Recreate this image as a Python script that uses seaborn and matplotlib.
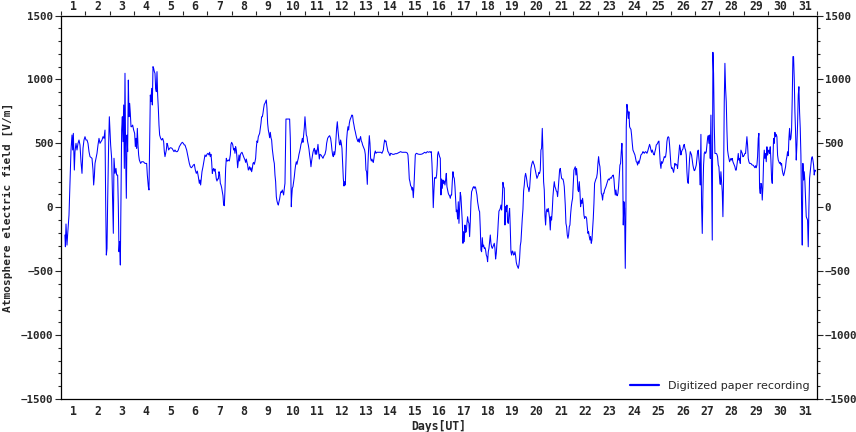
import numpy as np
import seaborn as sns
import matplotlib
matplotlib.use("Agg")
import matplotlib.pyplot as plt
from matplotlib.ticker import MultipleLocator, NullFormatter

# digitized recording: (day, field V/m) pairs
seg_a = [(1.16,-217),(1.18,-309),(1.205,-131),(1.246,-296),(1.27,-220),(1.328,-61),(1.369,200),(1.41,448),
         (1.451,565),(1.478,448),(1.506,578),(1.547,291),(1.574,435),(1.615,500),(1.656,448),(1.697,500),
         (1.738,526),(1.779,487),(1.82,356),(1.861,265),(1.902,461),(1.943,526),(1.984,552),(2.025,526),
         (2.066,526),(2.107,500),(2.148,435),(2.189,396),(2.271,383),(2.312,291),(2.339,174),(2.367,239),
         (2.394,343),(2.435,383),(2.476,422),(2.517,487),(2.558,539),(2.599,500),(2.64,513),(2.681,526),
         (2.722,552),(2.763,539),(2.804,604),(2.831,57),(2.859,-374),(2.886,-322),(2.913,43),(2.954,500),
         (2.982,708),(3.009,591),(3.036,487),(3.077,383),(3.118,17),(3.146,-204),(3.173,383),(3.214,265),
         (3.255,304),(3.282,252),(3.323,252),(3.351,4),(3.378,-348),(3.405,-269),(3.433,-452),(3.46,83),
         (3.487,604),(3.515,708),(3.542,513),(3.569,800),(3.597,304),(3.624,1048),(3.651,409),(3.679,70),
         (3.706,565),(3.733,435),(3.761,995),(3.788,708),(3.815,813),(3.843,735),(3.87,630),(3.897,630),
         (3.938,643),(3.979,604),(4.02,578),(4.048,474),(4.075,539),(4.102,461),(4.13,617),(4.157,487),
         (4.184,409),(4.212,370),(4.239,356),(4.266,343),(4.307,356),(4.376,356),(4.444,343),(4.512,343),
         (4.54,252),(4.581,161),(4.608,135),(4.635,487),(4.663,878),(4.69,826),(4.717,930),(4.745,800),
         (4.772,1100),(4.799,1087),(4.827,1061),(4.854,1048),(4.881,930),(4.909,904),(4.936,1061),(4.963,878),
         (4.991,774),(5.018,643),(5.045,565),(5.086,539),(5.127,526),(5.168,539),(5.209,513),(5.237,435),
         (5.264,396),(5.291,422),(5.319,448),(5.346,500),(5.373,487),(5.414,448),(5.455,461),(5.496,466),
         (5.551,461),(5.592,448),(5.633,435),(5.674,448),(5.715,435),(5.77,435),(5.811,448),(5.852,474),
         (5.893,487),(5.934,500),(5.975,508),(6.016,500),(6.057,487)]

seg_b = [(6.084,487),(6.152,448),(6.221,383),(6.262,343),(6.303,317),(6.344,309),(6.385,317),(6.426,330),
         (6.467,336),(6.508,291),(6.549,265),(6.59,283),(6.631,239),(6.672,187),(6.699,213),(6.726,174),
         (6.754,226),(6.781,278),(6.822,317),(6.863,362),(6.904,409),(6.945,396),(6.986,414),(7.027,422),
         (7.068,409),(7.095,430),(7.123,396),(7.15,414),(7.177,356),(7.205,265),(7.232,291),(7.259,304),
         (7.287,283),(7.314,299),(7.341,265),(7.369,221),(7.396,205),(7.423,221),(7.451,221),(7.478,278),
         (7.505,257),(7.533,187),(7.56,174),(7.587,153),(7.615,122),(7.642,90),(7.669,17),(7.697,12),
         (7.724,135),(7.751,304),(7.779,383),(7.806,362),(7.833,362),(7.861,370),(7.902,362),(7.943,409),
         (7.97,492),(7.997,508),(8.038,492),(8.079,448),(8.107,461),(8.134,422),(8.161,474),(8.189,448),
         (8.216,388),(8.243,309),(8.271,356),(8.298,409),(8.325,362),(8.353,409),(8.38,422),(8.421,430),
         (8.462,409),(8.503,388),(8.544,370),(8.571,351),(8.599,377),(8.626,351),(8.653,330),(8.681,291),
         (8.708,304),(8.735,317),(8.763,291),(8.79,309),(8.817,278),(8.845,304),(8.872,343),(8.899,351),
         (8.927,336),(8.954,356),(8.981,383),(9.009,466),(9.036,518),(9.063,508),(9.091,552),(9.118,565),
         (9.145,578),(9.173,617),(9.2,656),(9.227,708),(9.255,708),(9.282,735),(9.309,774),(9.337,805),
         (9.364,813),(9.391,826),(9.419,839),(9.446,774),(9.473,656),(9.501,604),(9.528,578),(9.555,544),
         (9.583,586),(9.61,544),(9.637,526),(9.665,455),(9.692,409),(9.719,370),(9.747,343),(9.774,252),
         (9.801,200),(9.829,83),(9.856,49),(9.883,30),(9.911,17),(9.938,43),(9.965,64),(9.993,101),
         (10.02,122),(10.047,116),(10.075,135),(10.102,116),(10.129,96),(10.157,148),(10.184,187),(10.211,539),
         (10.225,690),(10.375,690),(10.403,539),(10.43,200),(10.444,4),(10.457,70),(10.485,148),(10.512,161),
         (10.539,200),(10.567,239),(10.594,291),(10.621,330),(10.649,356),(10.676,336),(10.703,362),(10.731,383),
         (10.758,414),(10.785,435),(10.813,461),(10.84,492),(10.867,508),(10.895,539),(10.922,508),(10.949,565),
         (10.977,622),(11.004,708),(11.031,643),(11.059,565),(11.086,552),(11.113,513),(11.141,487),(11.168,455),
         (11.195,409),(11.223,370),(11.25,317),(11.277,362),(11.305,396),(11.332,430),(11.359,448),(11.387,461)]

seg_c = [(11.428,414),(11.455,448),(11.482,414),(11.51,448),(11.537,492),(11.564,435),(11.592,377),(11.619,414),
         (11.66,409),(11.701,396),(11.742,383),(11.783,403),(11.824,414),(11.865,448),(11.892,500),(11.933,539),
         (11.974,552),(12.015,560),(12.056,539),(12.084,500),(12.111,448),(12.138,409),(12.166,396),(12.193,435),
         (12.22,409),(12.248,448),(12.275,539),(12.302,617),(12.33,669),(12.357,604),(12.384,552),(12.412,500),
         (12.439,487),(12.466,526),(12.494,500),(12.521,461),(12.548,343),(12.576,226),(12.603,166),(12.63,200),
         (12.658,174),(12.685,356),(12.712,526),(12.74,591),(12.767,630),(12.794,604),(12.822,656),(12.849,682),
         (12.876,695),(12.904,708),(12.931,722),(12.958,716),(12.986,669),(13.013,643),(13.04,612),(13.068,591),
         (13.095,565),(13.122,544),(13.15,526),(13.177,513),(13.204,534),(13.232,508),(13.259,539),(13.286,552),
         (13.314,518),(13.341,508),(13.368,487),(13.396,474),(13.423,461),(13.45,448),(13.478,414),(13.505,291),
         (13.532,278),(13.56,179),(13.587,343),(13.614,461),(13.642,560),(13.669,500),(13.696,383),(13.724,362),
         (13.751,377),(13.778,362),(13.806,351),(13.833,383),(13.86,422),(13.888,440),(13.915,422),(13.956,430),
         (14.038,430),(14.12,430),(14.161,422),(14.188,435),(14.216,448),(14.243,492),(14.27,526),(14.298,513),
         (14.325,518),(14.352,487),(14.38,461),(14.407,435),(14.434,430),(14.462,414),(14.489,403),(14.516,422),
         (14.557,419),(14.598,414),(14.653,414),(14.708,419),(14.762,419),(14.817,424),(14.872,430),(14.926,435),
         (14.981,430),(15.036,430),(15.09,430),(15.145,430),(15.2,424),(15.227,409),(15.254,330),(15.282,221),
         (15.309,200),(15.336,169),(15.364,161),(15.391,135),(15.418,153),(15.446,75),(15.473,161),(15.5,291),
         (15.528,409),(15.555,419),(15.582,422),(15.637,416),(15.692,414),(15.746,414),(15.801,416),(15.856,422),
         (15.91,430),(15.965,424),(16.02,435),(16.074,430),(16.129,435),(16.156,430),(16.184,435),(16.211,343),
         (16.238,200),(16.265,-3),(16.293,135),(16.32,231),(16.347,231),(16.375,226),(16.402,252),(16.429,330)]

seg_d = [(16.443,409),(16.471,435),(16.498,414),(16.525,396),(16.553,383),(16.58,96),(16.607,221),(16.635,148),
         (16.662,213),(16.689,187),(16.717,205),(16.744,174),(16.771,213),(16.799,265),(16.826,161),(16.853,135),
         (16.881,109),(16.908,96),(16.935,90),(16.963,70),(16.99,96),(17.017,96),(17.045,200),(17.072,278),
         (17.099,239),(17.127,226),(17.154,161),(17.181,64),(17.209,-35),(17.236,-22),(17.263,-92),(17.291,43),
         (17.318,-126),(17.345,-9),(17.373,116),(17.4,82),(17.427,-9),(17.455,-113),(17.482,-282),(17.509,-191),
         (17.537,-269),(17.564,-139),(17.591,-196),(17.619,-191),(17.646,-126),(17.673,-74),(17.701,-113),(17.728,-126),
         (17.755,-230),(17.783,-113),(17.81,43),(17.837,122),(17.865,135),(17.892,153),(17.919,161),(17.947,148),
         (17.974,161),(18.001,153),(18.029,122),(18.056,96),(18.083,43),(18.111,12),(18.138,-22),(18.165,-35),
         (18.193,-165),(18.22,-335),(18.247,-348),(18.275,-238),(18.302,-309),(18.329,-296),(18.357,-322),(18.384,-316),
         (18.411,-335),(18.439,-374),(18.466,-387),(18.493,-426),(18.521,-348),(18.548,-322),(18.575,-269),(18.603,-217),
         (18.63,-282),(18.657,-309),(18.685,-322),(18.712,-309),(18.739,-296),(18.767,-282),(18.794,-322),(18.821,-405),
         (18.849,-361),(18.876,-282),(18.903,-217),(18.931,-113),(18.958,-30),(18.985,-22),(19.013,-9),(19.04,17),
         (19.067,-22),(19.095,70),(19.122,195),(19.149,161),(19.177,148),(19.204,-139),(19.231,4),(19.259,-35),
         (19.286,17),(19.313,-113),(19.341,-126),(19.368,-48),(19.395,-9),(19.423,-165),(19.45,-348),(19.477,-374),
         (19.505,-342),(19.532,-348),(19.559,-374),(19.587,-369),(19.614,-348),(19.641,-379),(19.669,-431),(19.696,-452),
         (19.723,-465),(19.751,-478),(19.778,-452),(19.805,-400),(19.833,-301),(19.86,-269),(19.887,-178),(19.915,-87),
         (19.942,-17),(19.969,127),(19.997,174),(20.024,239),(20.051,265),(20.079,239),(20.106,205),(20.133,161),
         (20.161,153),(20.188,122),(20.215,148),(20.243,226),(20.27,304),(20.297,330),(20.325,351),(20.352,362),
         (20.379,343),(20.407,330),(20.434,304),(20.461,278),(20.489,247),(20.516,226),(20.543,239),(20.571,252),
         (20.598,273),(20.625,265),(20.653,291),(20.68,448),(20.707,461),(20.735,617),(20.762,435),(20.789,200),
         (20.817,135),(20.844,-61),(20.871,-139),(20.899,-35),(20.926,-14),(20.953,-35),(20.981,-9),(21.008,-48),
         (21.035,-87),(21.063,-178),(21.09,-74),(21.117,-100),(21.145,-22),(21.172,83),(21.199,148),(21.227,200),
         (21.254,161),(21.281,148),(21.309,127),(21.336,122),(21.363,83),(21.391,148),(21.418,226),(21.445,291),
         (21.473,304),(21.5,265),(21.527,226),(21.555,221),(21.582,221),(21.609,200),(21.637,161)]

seg_e = [(21.678,17),(21.705,-126),(21.732,-152),(21.76,-217),(21.787,-243),(21.814,-217),(21.842,-152),(21.869,-139),
         (21.896,-56),(21.924,4),(21.951,43),(21.978,70),(22.006,187),(22.033,291),(22.06,304),(22.088,317),
         (22.115,252),(22.142,304),(22.17,239),(22.197,135),(22.224,122),(22.252,200),(22.279,122),(22.306,4),
         (22.334,56),(22.361,30),(22.388,70),(22.416,17),(22.443,-61),(22.47,-87),(22.498,-74),(22.525,-74),
         (22.552,-87),(22.58,-152),(22.607,-204),(22.634,-191),(22.662,-230),(22.689,-256),(22.716,-230),(22.744,-282),
         (22.771,-256),(22.798,-178),(22.826,-87),(22.853,30),(22.88,187),(22.908,205),(22.935,221),(22.962,231),
         (22.99,265),(23.017,343),(23.044,396),(23.072,343),(23.099,317),(23.126,239),(23.154,109),(23.181,96),
         (23.208,56),(23.236,109),(23.263,109),(23.29,135),(23.318,148),(23.345,161),(23.372,179),(23.4,195),
         (23.427,213),(23.454,221),(23.482,213),(23.509,226),(23.536,231),(23.564,226),(23.591,239),(23.618,247),
         (23.646,252),(23.673,221),(23.7,148),(23.728,96),(23.755,135),(23.782,96),(23.81,90),(23.837,109),
         (23.864,161),(23.892,252),(23.919,330),(23.946,343),(23.974,435),(24.001,500),(24.028,356),(24.056,-139),
         (24.083,43),(24.11,-9),(24.138,-478),(24.165,-9),(24.179,630),(24.206,805),(24.233,761),(24.261,695),
         (24.288,747),(24.315,630),(24.343,617),(24.37,610),(24.397,565),(24.425,500),(24.452,448),(24.479,435),
         (24.507,422),(24.534,409),(24.561,383),(24.589,356),(24.616,351),(24.643,330),(24.671,362),(24.698,343),
         (24.725,362),(24.753,383),(24.78,409),(24.807,414),(24.835,422),(24.862,435),(24.889,430),(24.917,422),
         (24.944,430),(24.971,435),(24.999,430),(25.026,422),(25.053,435),(25.081,455),(25.108,474),(25.135,492),
         (25.163,474),(25.19,448),(25.217,430),(25.245,448),(25.272,430),(25.299,414),(25.327,409),(25.354,435),
         (25.381,455),(25.409,487),(25.436,492),(25.463,500),(25.491,513),(25.518,518),(25.545,435),(25.573,343),
         (25.6,304),(25.627,356),(25.655,343),(25.682,356),(25.709,377),(25.737,396),(25.764,388),(25.791,396),
         (25.819,435),(25.846,513),(25.873,544),(25.901,552),(25.928,544),(25.955,487),(25.983,409),(26.01,330),
         (26.037,304),(26.065,309),(26.092,291),(26.119,273),(26.147,309),(26.174,343),(26.201,330),(26.229,336),
         (26.256,330),(26.283,304),(26.311,370),(26.338,422),(26.365,487),(26.393,461),(26.42,409),(26.447,435),
         (26.475,448),(26.502,455),(26.529,482),(26.557,492),(26.584,461),(26.611,448),(26.639,409),(26.666,278),
         (26.693,200),(26.721,187),(26.748,291),(26.775,383),(26.803,435)]

seg_f = [(26.83,421),(26.857,408),(26.885,369),(26.912,330),(26.939,304),(26.967,286),(26.994,291),(27.021,309),
         (27.049,330),(27.076,382),(27.103,434),(27.131,447),(27.158,382),(27.185,330),(27.213,174),(27.24,570),
         (27.267,17),(27.295,-205),(27.322,121),(27.349,330),(27.377,421),(27.404,434),(27.431,421),(27.459,434),
         (27.486,487),(27.513,539),(27.541,560),(27.568,500),(27.595,565),(27.623,382),(27.65,721),(27.677,239),
         (27.705,-257),(27.732,1212),(27.759,1047),(27.787,643),(27.814,421),(27.841,421),(27.869,421),(27.896,414),
         (27.923,395),(27.951,330),(27.978,317),(28.005,226),(28.033,179),(28.06,278),(28.087,200),(28.115,121),
         (28.142,-74),(28.169,226),(28.197,826),(28.224,1126),(28.251,930),(28.279,826),(28.306,604),(28.333,447),
         (28.361,408),(28.388,382),(28.415,356),(28.443,369),(28.47,382),(28.497,369),(28.525,382),(28.552,356),
         (28.579,343),(28.607,330),(28.634,317),(28.661,291),(28.689,291),(28.716,330),(28.743,369),(28.771,421),
         (28.798,369),(28.825,382),(28.853,343),(28.88,447),(28.907,434),(28.935,421),(28.962,395),(28.989,400),
         (29.017,408),(29.044,421),(29.071,421),(29.099,487),(29.126,552),(29.153,487),(29.181,382),(29.208,356),
         (29.235,343),(29.263,343),(29.29,343),(29.317,335),(29.345,330),(29.372,330),(29.399,325),(29.427,317),
         (29.454,309),(29.481,325),(29.509,309),(29.536,330),(29.563,395),(29.591,539),(29.618,578),(29.645,148),
         (29.673,108),(29.7,187),(29.727,179),(29.755,56),(29.782,161),(29.809,356),(29.837,447),(29.864,382),
         (29.891,421),(29.919,356),(29.946,473),(29.973,408),(30.001,434),(30.028,447),(30.055,421),(30.083,473),
         (30.11,369),(30.137,226),(30.165,187),(30.192,369),(30.219,539),(30.247,500),(30.274,586),(30.301,552),
         (30.329,570),(30.356,552),(30.383,408),(30.411,369),(30.438,356),(30.465,343),(30.493,351),(30.52,330),
         (30.547,343),(30.575,291),(30.602,265),(30.629,247),(30.657,265),(30.684,291),(30.711,317),(30.739,369),
         (30.766,395),(30.793,434),(30.821,403),(30.848,539),(30.875,617),(30.903,526),(30.93,539),(30.957,604),
         (30.985,852),(31.012,1178),(31.039,1178),(31.067,1008),(31.094,747),(31.121,591),(31.149,369),(31.176,487),
         (31.203,643),(31.231,878),(31.258,943),(31.285,747),(31.313,617),(31.34,408),(31.367,17),(31.395,-296),
         (31.422,343),(31.449,213),(31.477,278),(31.504,200),(31.531,69),(31.559,-74),(31.586,-87),(31.613,-100),
         (31.641,-309),(31.668,-9),(31.695,226),(31.723,278),(31.75,330),(31.777,382),(31.805,395),(31.832,369),
         (31.86,330),(31.887,252),(31.914,291),(31.941,283)]

day_labels = [str(i) for i in range(1, 32)]

pairs = seg_a + seg_b + seg_c + seg_d + seg_e + seg_f
days = np.array([p[0] for p in pairs])
field = np.array([p[1] for p in pairs])

sns.set_style("white")
plt.rcParams['font.family'] = ['DejaVu Sans Mono']
plt.rcParams['font.weight'] = 'bold'

fig = plt.figure(figsize=(8.56, 4.32), dpi=100)
ax = fig.add_axes([61/856, 1 - 399/432, 756/856, 383.5/432])

sns.lineplot(x=days, y=field, ax=ax, color='#0000ff', linewidth=0.75,
             sort=False, estimator=None, label='Digitized paper recording')

ax.set_xlim(1, 32)
ax.set_ylim(-1500, 1500)

# day boundaries get ticks, day numbers sit in the middle of each day
centers = np.arange(1.5, 32, 1)
ax.xaxis.set_major_locator(MultipleLocator(1))
ax.xaxis.set_major_formatter(NullFormatter())
ax.set_xticks(centers, labels=day_labels, minor=True)
ax.tick_params(axis='x', which='major', direction='out', length=3, width=0.8)
ax.tick_params(axis='x', which='minor', length=0, pad=4.5, labelsize=8.3)

top = ax.secondary_xaxis('top')
top.xaxis.set_major_locator(MultipleLocator(1))
top.xaxis.set_major_formatter(NullFormatter())
top.set_xticks(centers, labels=day_labels, minor=True)
top.tick_params(axis='x', which='major', direction='out', length=3, width=0.8)
top.tick_params(axis='x', which='minor', length=0, pad=1.5, labelsize=8.3)
top.spines['top'].set_visible(False)

ax.yaxis.set_major_locator(MultipleLocator(500))
ax.yaxis.set_minor_locator(MultipleLocator(100))
ax.tick_params(axis='y', which='major', direction='out', length=4.5, width=0.8,
               left=True, right=True, labelleft=True, labelright=True, labelsize=7.8, pad=1)
ax.tick_params(axis='y', which='minor', direction='out', length=2.2, width=0.8,
               left=True, right=True)

for s in ax.spines.values():
    s.set_visible(True)
    s.set_color('black')
    s.set_linewidth(0.9)

ax.set_xlabel('Days[UT]', fontsize=8.3, fontweight='bold')
ax.set_ylabel('Atmosphere electric field [V/m]', fontsize=8, fontweight='bold')
ax.xaxis.set_label_coords(0.5, -0.055)
ax.yaxis.set_label_coords(-0.064, 0.5)

leg = ax.legend(loc='lower right', frameon=False, handlelength=2.6, borderaxespad=0.3,
                prop={'family': 'DejaVu Sans', 'weight': 'normal', 'size': 8})
for h in leg.get_lines():
    h.set_linewidth(1.6)

fig.savefig('out.png', dpi=100)
